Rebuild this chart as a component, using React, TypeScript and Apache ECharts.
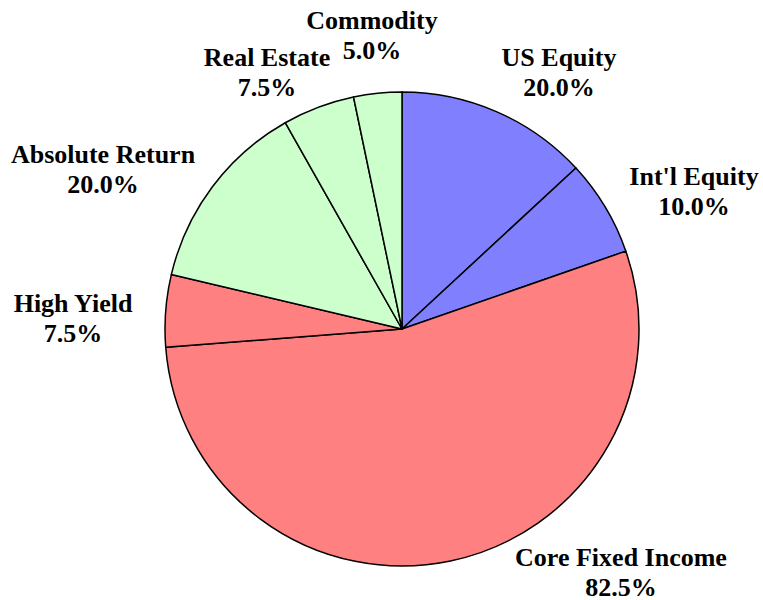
import React, { useEffect, useRef } from "react";
import * as echarts from "echarts";

const categories = ["US Equity", "Int'l Equity", "Core Fixed Income", "High Yield", "Absolute Return", "Real Estate", "Commodity"];
const values = [20.0, 10.0, 82.5, 7.5, 20.0, 7.5, 5.0];
const colors = ["#8080FF", "#8080FF", "#FF8080", "#FF8080", "#CCFFCC", "#CCFFCC", "#CCFFCC"];
// label centres (px) as placed in the reference
const labelCenters: [number, number][] = [
  [559, 72],
  [694, 191],
  [621, 572],
  [73, 318],
  [103, 169],
  [267, 72],
  [372, 35],
];

export default function App() {
  const ref = useRef<HTMLDivElement>(null);
  useEffect(() => {
    document.body.style.margin = "0";
    const chart = echarts.init(ref.current!, undefined, { renderer: "svg" });
    chart.setOption({
      animation: false,
      backgroundColor: "#ffffff",
      series: [
        {
          type: "pie",
          center: [402, 329],
          radius: 237,
          startAngle: 90,
          clockwise: true,
          data: categories.map((name, i) => ({
            name,
            value: values[i],
            itemStyle: { color: colors[i] },
          })),
          itemStyle: { borderColor: "#000000", borderWidth: 1.5 },
          label: {
            show: true,
            position: "outside",
            formatter: (p: any) => `${p.name}\n${Number(p.value).toFixed(1)}%`,
            fontFamily: "'Liberation Serif', 'Times New Roman', serif",
            fontWeight: "bold",
            fontSize: 26,
            lineHeight: 30,
            color: "#000000",
            align: "center",
            overflow: "none",
            width: 320,
          },
          labelLine: { show: false },
          labelLayout: (params: any) => {
            const c = labelCenters[params.dataIndex];
            return { x: c[0], y: c[1], align: "center", verticalAlign: "middle" };
          },
          emphasis: { disabled: true },
        },
      ],
    });
    return () => chart.dispose();
  }, []);
  return <div ref={ref} style={{ width: 763, height: 600 }} />;
}
